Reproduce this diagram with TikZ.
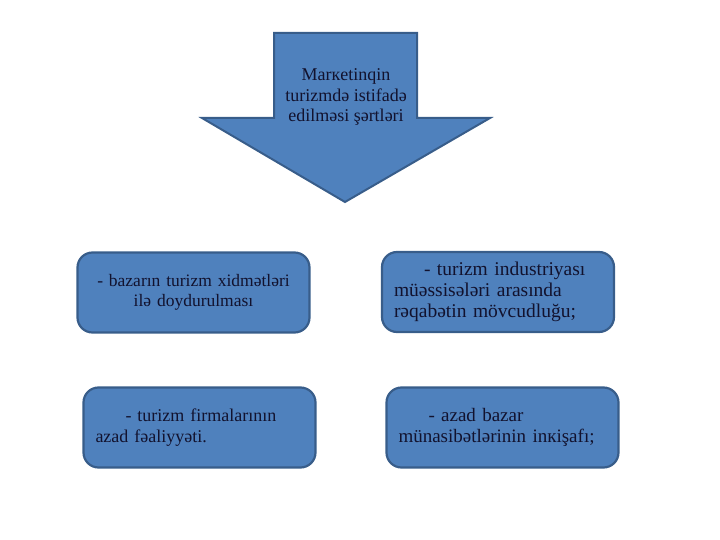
\documentclass[tikz,border=0pt]{standalone}
\usepackage{fontspec}
\setmainfont{Liberation Serif}
\usetikzlibrary{positioning}
\definecolor{boxblue}{HTML}{4F81BD}
\definecolor{boxline}{HTML}{385D8A}
\definecolor{ink}{HTML}{12122E}

\begin{document}
\begin{tikzpicture}[x=1pt, y=-1pt,
	every node/.style={text=ink, font=\fontsize{18}{20.5}\selectfont},
	cond/.style={
		draw=boxline,
		fill=boxblue,
		line width=2.2pt,
		rounded corners=15pt,
		minimum width=232pt,
		minimum height=80pt,
		inner xsep=12pt,
		text width=208pt,
		align=left
	},
	bigarrow/.style={draw=boxline, fill=boxblue, line width=2pt, line join=miter}
	]

	\useasboundingbox (0,0) rectangle (720,540);

	% big arrow on top
	\draw[bigarrow] (274,33) -- (417,33) -- (417,118) -- (490,118) -- (345,202) -- (202,118) -- (274,118) -- cycle;
	\node[align=center] (title) at (346,97) {Marкetinqin\\turizmdə istifadə\\edilməsi şərtləri};

	% conditions, left column
	\node[cond, align=center, font=\fontsize{17.5}{20.5}\selectfont] (c1) at (193.5,292.5) {- bazarın turizm xidmətləri\\ilə doydurulması};
	\node[cond, font=\fontsize{18}{21.5}\selectfont] (c3) at (199.5,427.5) {\hspace*{30pt}- turizm firmalarının\\azad fəaliyyəti.};

	% conditions, right column
	\node[cond, font=\fontsize{19.5}{21}\selectfont] (c2) at (498,292) {\hspace*{30pt}- turizm industriyası\\müəssisələri arasında\\rəqabətin mövcudluğu;};
	\node[cond, font=\fontsize{19}{21}\selectfont] (c4) at (502.5,427.5) {\hspace*{30pt}- azad bazar\\münasibətlərinin inкişafı;};

\end{tikzpicture}
\end{document}
